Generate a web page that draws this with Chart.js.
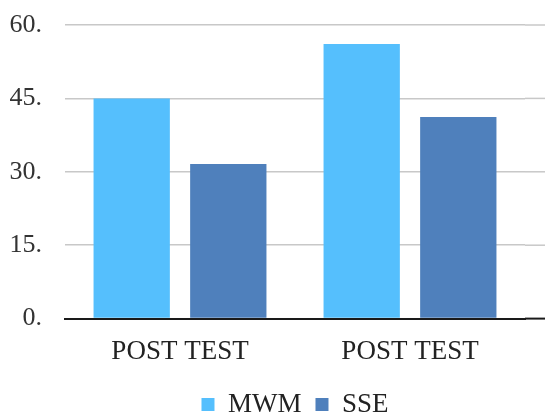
<!DOCTYPE html>
<html>
<head>
  <meta charset="UTF-8" />
  <title>MWM vs SSE</title>
  <script src="https://cdn.jsdelivr.net/npm/chart.js"></script>
  <style>
    html, body { margin: 0; padding: 0; background: #fff; }
    #wrap { width: 545px; height: 412px; }
  </style>
</head>
<body>
  <div id="wrap"><canvas id="chart"></canvas></div>
  <script>
    // data
    const categories = ['POST TEST', 'POST TEST'];
    const mwmValues = [45, 56.1];
    const sseValues = [31.6, 41.2];
    const yTicks = [0, 15, 30, 45, 60];

    const serif = '"Liberation Serif", "DejaVu Serif", serif';

    // gridlines in the reference run on past the last bar group to the edge
    const extendGrid = {
      id: 'extendGrid',
      beforeDatasetsDraw(chart) {
        const { ctx, chartArea, scales } = chart;
        ctx.save();
        yTicks.forEach(v => {
          const y = scales.y.getPixelForValue(v);
          ctx.beginPath();
          ctx.strokeStyle = v === 0 ? '#1a1a1a' : '#c8c8c8';
          ctx.lineWidth = v === 0 ? 2 : 1.5;
          ctx.moveTo(chartArea.right, y);
          ctx.lineTo(chart.width, y);
          ctx.stroke();
        });
        ctx.restore();
      }
    };

    new Chart(document.getElementById('chart'), {
      type: 'bar',
      data: {
        labels: categories,
        datasets: [
          { label: 'MWM', data: mwmValues, backgroundColor: '#55bffd' },
          { label: 'SSE', data: sseValues, backgroundColor: '#4f80bc' }
        ]
      },
      options: {
        responsive: true,
        maintainAspectRatio: false,
        animation: false,
        layout: { padding: { top: 25, right: 20, left: 10, bottom: -16 } },
        datasets: { bar: { categoryPercentage: 0.84, barPercentage: 0.79 } },
        scales: {
          x: {
            grid: { display: false },
            border: { display: true, color: '#1a1a1a', width: 2 },
            ticks: { color: '#222', font: { family: serif, size: 27 }, padding: 9 },
            afterFit: ax => { ax.paddingLeft = 0; ax.paddingRight = 0; }
          },
          y: {
            min: 0, max: 60,
            afterBuildTicks: ax => { ax.ticks = yTicks.map(v => ({ value: v })); },
            afterFit: ax => { ax.paddingTop = 0; ax.paddingBottom = 0; ax.width = 55; },
            grid: { color: '#c8c8c8', lineWidth: 1.5, drawTicks: false },
            border: { display: false },
            ticks: {
              color: '#333', padding: 23,
              font: { family: serif, size: 26 },
              callback: v => v + '.'
            }
          }
        },
        plugins: {
          legend: {
            position: 'bottom',
            fullSize: false,
            labels: {
              color: '#222', boxWidth: 13, boxHeight: 13, padding: 14,
              font: { family: serif, size: 27 }
            }
          },
          tooltip: { enabled: false }
        }
      },
      plugins: [extendGrid]
    });
  </script>
</body>
</html>
